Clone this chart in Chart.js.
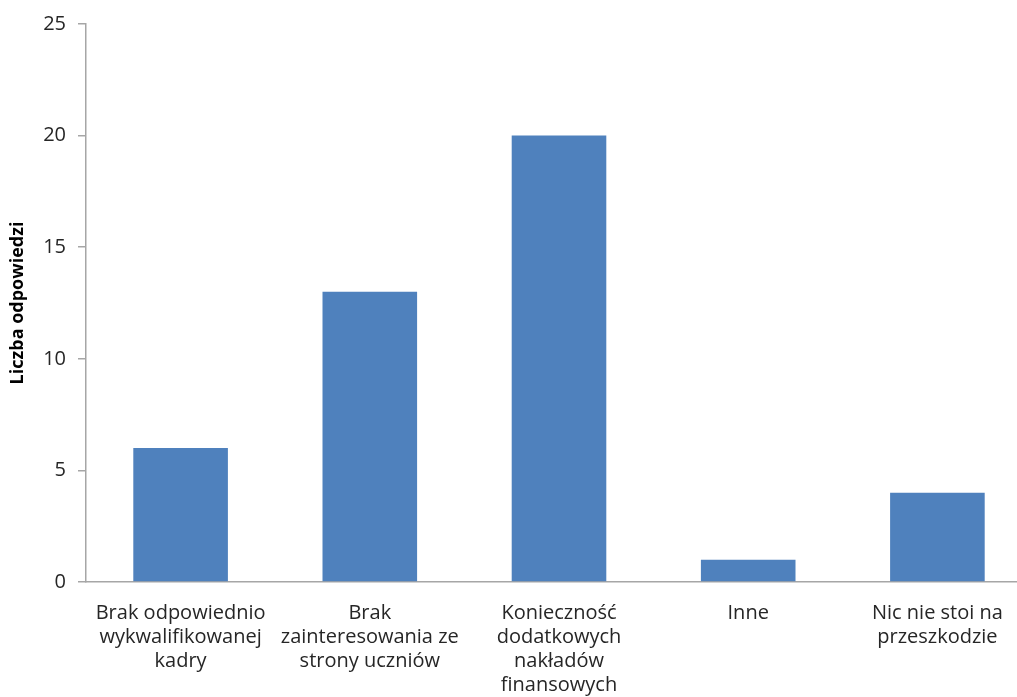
<!DOCTYPE html>
<html>
<head>
<meta charset="utf-8">
<script src="https://cdn.jsdelivr.net/npm/chart.js@4"></script>
<style>
  body { margin: 0; background: #fff; overflow: hidden; }
</style>
</head>
<body>
<canvas id="chart" width="1036" height="697"></canvas>
<script>
const categories = [
  ["Brak odpowiednio", "wykwalifikowanej", "kadry"],
  ["Brak", "zainteresowania ze", "strony uczniów"],
  ["Konieczność", "dodatkowych", "nakładów", "finansowych"],
  ["Inne"],
  ["Nic nie stoi na", "przeszkodzie"],
];
const answers = [6, 13, 20, 1, 4];
const yTitle = "Liczba odpowiedzi";

const axisColor = "#a6a6a6";
const font = "'Open Sans', 'Liberation Sans', sans-serif";

new Chart(document.getElementById("chart").getContext("2d"), {
  type: "bar",
  data: {
    labels: categories,
    datasets: [
      {
        data: answers,
        backgroundColor: "#4f81bd",
        borderWidth: 0,
        categoryPercentage: 0.5,
        barPercentage: 1,
      },
    ],
  },
  options: {
    responsive: false,
    animation: false,
    layout: { padding: { top: 23, right: 4, left: 0, bottom: 0 } },
    plugins: { legend: { display: false }, tooltip: { enabled: false } },
    scales: {
      x: {
        grid: { display: false },
        border: { display: true, color: axisColor, width: 1.5 },
        ticks: {
          color: "#262626",
          font: { family: font, size: 20, lineHeight: 1.2 },
          padding: 11,
          maxRotation: 0,
          autoSkip: false,
        },
        afterFit: (scale) => { scale.height = 115; },
      },
      y: {
        min: 0,
        max: 25,
        ticks: {
          stepSize: 5,
          color: "#262626",
          font: { family: font, size: 20 },
          padding: 12,
        },
        grid: { drawOnChartArea: false, drawTicks: true, tickLength: 8, color: axisColor, lineWidth: 1.5 },
        border: { display: true, color: axisColor, width: 1.5 },
        title: {
          display: true,
          text: yTitle,
          color: "#000",
          font: { family: font, size: 18, weight: "bold" },
          padding: { top: 7, bottom: 0 },
        },
        afterFit: (scale) => { scale.width = 86; },
      },
    },
  },
});
</script>
</body>
</html>
